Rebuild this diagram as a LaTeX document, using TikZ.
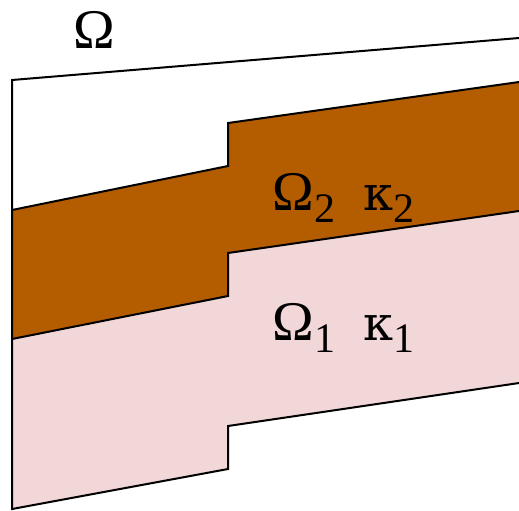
\documentclass[tikz,border=0pt]{standalone}
\usepackage{fontspec}
\setmainfont{Liberation Serif}
\newfontfamily\greekfont{DejaVu Serif}
\usepackage{xcolor}
\definecolor{Clay}{HTML}{B35C00}
\definecolor{Blush}{HTML}{F2D7D8}
\newcommand{\lowsub}[1]{\raisebox{-6pt}{\fontsize{21}{21}\selectfont #1}}
\newcommand{\kap}{{\greekfont\fontsize{24}{24}\selectfont κ}}

\begin{document}
\begin{tikzpicture}[x=0.5pt,y=-0.5pt,
  edge/.style={draw=black,line width=1pt,line join=miter},
  tag/.style={anchor=base west,inner sep=0pt,font=\fontsize{28}{28}\selectfont}]
\useasboundingbox (0,0) rectangle (519,510);
% layers
\fill[Blush] (12,339) -- (228,296) -- (228,253) -- (519,211) -- (519,383) -- (228,426) -- (228,469) -- (12,509) -- cycle;
\fill[Clay] (12,210) -- (228,166) -- (228,123) -- (519,82) -- (519,211) -- (228,253) -- (228,296) -- (12,339) -- cycle;
% outline of the domain
\draw[edge] (519,38) -- (12,80) -- (12,510);
\foreach \a/\b/\c/\d in {210/166/123/82,339/296/253/211,509/469/426/383}
  \draw[edge] (12,\a) -- (228,\b) -- (228,\c) -- (519,\d);
\node[tag] (omega) at (73,48) {Ω};
\node[tag] (upper) at (272,210) {Ω\lowsub{2}\hspace{14pt}\kap\lowsub{2}};
\node[tag] (lower) at (272,340) {Ω\lowsub{1}\hspace{14pt}\kap\lowsub{1}};
\end{tikzpicture}
\end{document}
